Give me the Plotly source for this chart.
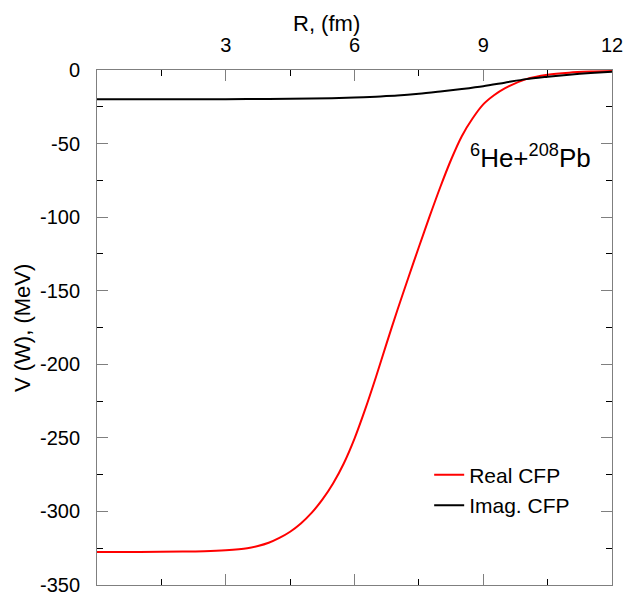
import plotly.graph_objects as go

# Real part of the CFP potential
r_real = [0, 1, 2, 2.5, 3, 3.5, 3.75, 4, 4.25, 4.5, 4.75, 5, 5.25, 5.5, 5.75, 6, 6.25, 6.5, 6.75,
          7, 7.25, 7.5, 7.75, 8, 8.25, 8.5, 8.75, 9, 9.25, 9.5, 10, 10.5, 11, 11.5, 12]
v_real = [-327.5, -327.5, -327.3, -327.0, -326.3, -325.0, -323.5, -321.3, -318.0, -313.8, -308.2,
          -301.0, -292.0, -281.0, -267.4, -250.5, -230.5, -208.6, -185.6,
          -163.1, -141.5, -120.3, -99.5, -79.5, -61.0, -45.0, -33.0, -23.4, -17.2, -12.5,
          -6.2, -3.2, -1.8, -1.1, -0.7]

# Imaginary part of the CFP potential
r_imag = [0, 1, 2, 3, 4, 5, 6, 6.5, 7, 7.5, 8, 8.5, 9, 9.5, 10, 10.5, 11, 11.5, 12]
w_imag = [-19.8, -19.8, -19.8, -19.8, -19.7, -19.4, -18.7, -18.1, -17.4, -16.2, -14.6, -12.9,
          -11.0, -8.6, -6.2, -4.6, -3.2, -2.1, -1.2]

x_ticks = [3, 6, 9, 12]
y_ticks = [0, -50, -100, -150, -200, -250, -300, -350]

FONT = "Liberation Sans, Arial, sans-serif"

fig = go.Figure()
fig.add_trace(go.Scatter(x=r_real, y=v_real, mode="lines", name="Real CFP",
                         line=dict(color="#ff0000", width=2, shape="spline", smoothing=0.8)))
fig.add_trace(go.Scatter(x=r_imag, y=w_imag, mode="lines", name="Imag. CFP",
                         line=dict(color="#000000", width=2, shape="spline", smoothing=0.8)))

fig.add_annotation(x=10.1, y=-59, xref="x", yref="y", showarrow=False,
                   text="<sup>6</sup>He+<sup>208</sup>Pb",
                   font=dict(family=FONT, size=26, color="black"))

# axis titles
fig.add_annotation(x=0.4447, y=1.091, xref="paper", yref="paper", showarrow=False,
                   text="R, (fm)", font=dict(family=FONT, size=22, color="black"),
                   xanchor="center", yanchor="middle")
fig.add_annotation(x=-0.1456, y=0.499, xref="paper", yref="paper", showarrow=False,
                   text="V (W), (MeV)", textangle=-90, font=dict(family=FONT, size=22, color="black"),
                   xanchor="center", yanchor="middle")

axis_common = dict(showgrid=False, zeroline=False, showline=True, linecolor="#7f7f7f", linewidth=1,
                   mirror="ticks", ticks="inside", ticklen=11, tickcolor="#7f7f7f", tickwidth=1,
                   automargin=False, ticklabeloverflow="allow",
                   tickfont=dict(family=FONT, size=20, color="black"))

fig.update_layout(
    width=626, height=593,
    margin=dict(l=97, r=14, t=70, b=8),
    paper_bgcolor="white", plot_bgcolor="white",
    font=dict(family=FONT, color="black"),
    xaxis=dict(range=[0, 12], side="top", tickvals=x_ticks, ticktext=[str(t) for t in x_ticks],
               ticklabelstandoff=9,
               minor=dict(ticks="inside", ticklen=6, tickcolor="black", dtick=1.5, tick0=0, showgrid=False),
               **axis_common),
    yaxis=dict(range=[-350, 0], tickvals=y_ticks, ticktext=[str(t) for t in y_ticks],
               ticklabelstandoff=12,
               minor=dict(ticks="inside", ticklen=6, tickcolor="black", dtick=25, tick0=0, showgrid=False),
               **axis_common),
    legend=dict(x=0.645, y=0.253, xanchor="left", yanchor="top", bgcolor="rgba(0,0,0,0)",
                font=dict(family=FONT, size=21), tracegroupgap=0, itemwidth=30),
    showlegend=True,
)

fig.write_html("out.html", config={"displayModeBar": False},
               post_script="document.body.style.margin='0';")
